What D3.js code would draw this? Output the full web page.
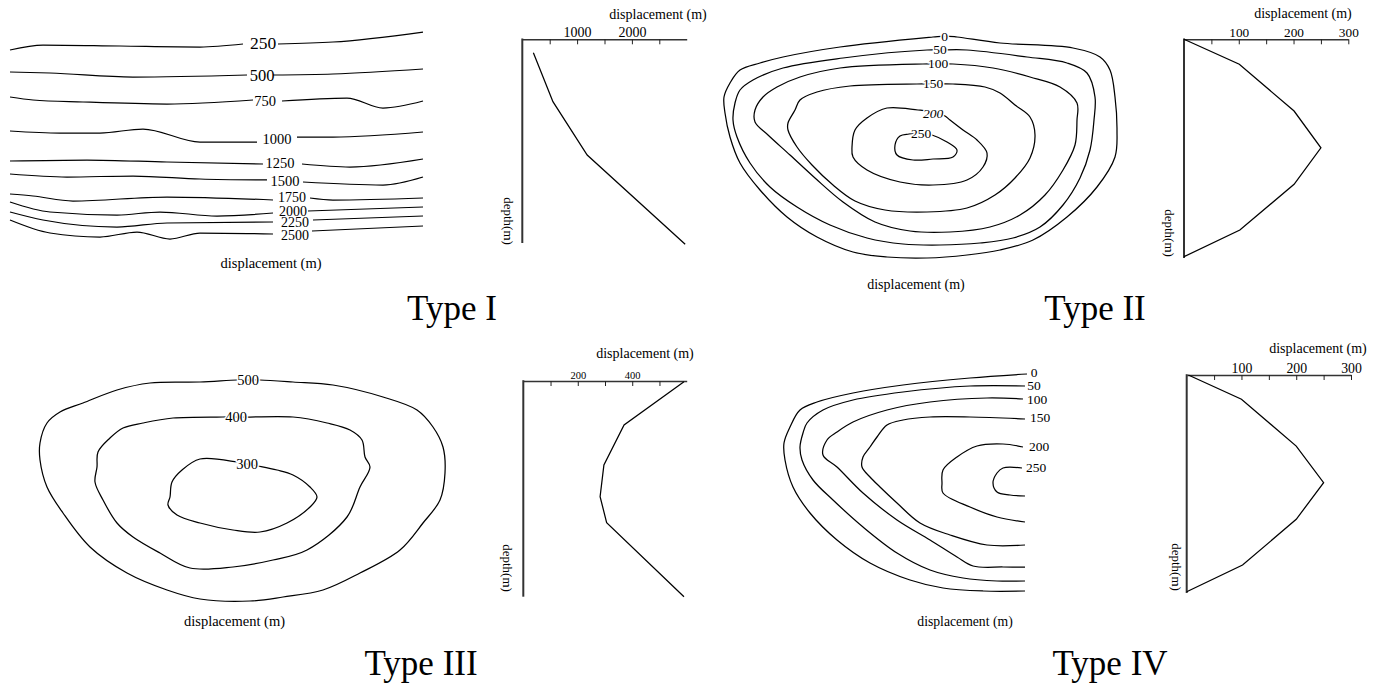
<!DOCTYPE html>
<html><head><meta charset="utf-8">
<script src="https://cdn.jsdelivr.net/npm/d3@7"></script>
<style>
html,body{margin:0;padding:0;background:#fff;}
svg{display:block;font-family:"Liberation Serif","Times New Roman",serif;}
</style></head><body>
<svg id="chart" width="1384" height="687"></svg>
<script>
// ================= DATA =================
const typeNames = ["Type I", "Type II", "Type III", "Type IV"];

// ---- Type I: sub-horizontal displacement contours (along-strike x, down-dip y), split at label gap
const typeI_levels = [250, 500, 750, 1000, 1250, 1500, 1750, 2000, 2250, 2500];
const typeI_left = [
  [[0,20],[33,15],[110,16],[190,17],[233,14]],
  [[0,42],[40,43],[123,47],[237,45]],
  [[0,67],[23,70],[73,72],[157,74],[243,70]],
  [[0,101],[50,103],[90,103],[133,99],[190,112],[247,112]],
  [[0,131],[77,130],[157,132],[253,134]],
  [[0,144],[57,147],[123,146],[190,149],[257,150]],
  [[0,164],[23,166],[63,171],[157,167],[263,170]],
  [[0,172],[40,182],[107,185],[150,182],[207,186],[263,183]],
  [[0,182],[33,190],[107,197],[157,193],[263,192]],
  [[0,190],[40,203],[90,207],[127,202],[160,209],[190,203],[263,204]]
];
const typeI_right = [
  [[268,14],[323,12],[413,2]],
  [[263,45],[323,44],[413,39]],
  [[272,71],[337,68],[373,78],[413,71]],
  [[287,107],[323,107],[413,102]],
  [[292,134],[340,137],[413,129]],
  [[293,152],[373,155],[413,147]],
  [[300,168],[323,170],[413,168]],
  [[298,181],[413,177]],
  [[303,190],[413,186]],
  [[302,201],[413,196]]
];
const typeI_labelPos = [[253,13],[252,45],[255,71],[267,109],[270,133],[275,151],[282,167],[283,181],[285,192],[285,205]];

// ---- Type II: closed concentric contours
const typeII_levels = [0, 50, 100, 150, 200, 250];
const typeII_contours = [
  [[225,6],[213,7],[120,17],[63,27],[40,33],[20,40],[10,53],[4,67],[5,83],[10,107],[20,133],[40,160],[67,187],[97,207],[133,222],[167,227],[207,228],[247,225],[280,220],[313,210],[347,187],[377,157],[395,127],[397,100],[395,67],[390,40],[380,27],[353,18],[280,13],[237,7]],
  [[220,20],[207,20],[123,28],[63,38],[33,50],[20,60],[15,73],[13,90],[17,107],[30,133],[50,157],[77,177],[110,195],[147,208],[183,214],[220,215],[260,213],[293,208],[320,197],[343,175],[360,148],[370,120],[374,90],[375,67],[367,43],[347,33],[307,27],[247,20]],
  [[218,34],[203,34],[120,38],[80,47],[57,57],[43,67],[35,80],[35,92],[48,105],[70,125],[95,148],[123,172],[155,192],[190,201],[230,202],[270,197],[300,185],[325,165],[343,140],[355,115],[357,90],[357,73],[340,57],[310,47],[273,38],[233,34]],
  [[213,54],[197,54],[130,56],[97,62],[80,70],[75,80],[68,93],[68,100],[77,117],[92,135],[113,155],[135,171],[165,180],[207,182],[247,178],[275,165],[295,148],[310,128],[315,105],[310,87],[295,75],[280,63],[265,57],[233,54]],
  [[213,82],[198,80],[167,78],[147,88],[135,100],[132,117],[133,127],[147,140],[180,152],[213,155],[247,150],[263,137],[267,123],[257,110],[243,100],[230,90],[225,86]],
  [[201,103],[189,104],[180,106],[175,115],[177,125],[193,130],[213,129],[233,127],[237,120],[227,112],[212,105]]
];
const typeII_labelPos = [[224.5,6.7],[220,19.3],[218,33.3],[213,53.3],[213,83.3],[201,103.3]];

// ---- Type III: closed contours
const typeIII_levels = [500, 400, 300];
const typeIII_contours = [
  [[218,10],[207,10],[170,12],[120,13],[87,20],[53,33],[30,42],[17,53],[10,73],[10,90],[17,117],[33,143],[60,177],[97,203],[137,220],[170,229],[220,231],[253,227],[293,220],[330,203],[370,180],[393,153],[410,130],[415,103],[413,77],[403,57],[387,40],[353,27],[303,15],[263,12],[230,10]],
  [[207,47],[193,47],[143,48],[113,53],[93,58],[80,68],[68,82],[67,97],[65,112],[73,130],[87,153],[103,167],[130,183],[160,198],[203,197],[243,190],[277,180],[317,147],[330,117],[340,97],[335,87],[332,70],[320,60],[297,53],[263,47],[220,47]],
  [[217,94],[207,92],[170,89],[152,100],[142,112],[140,127],[138,135],[147,145],[170,153],[203,160],[230,162],[257,153],[280,137],[287,127],[280,117],[263,105],[247,100],[228,96]]
];
const typeIII_labelPos = [[218,10],[206,46.7],[217,94.3]];

// ---- Type IV: contours open toward the right edge
const typeIV_levels = [0, 50, 100, 150, 200, 250];
const typeIV_contours = [
  [[247,14],[190,18],[123,25],[73,33],[37,42],[20,50],[10,67],[4,83],[5,100],[13,127],[30,153],[57,180],[90,203],[130,220],[163,228],[203,231],[245,231]],
  [[245,26],[190,26],[123,32],[73,40],[43,50],[27,63],[23,73],[20,87],[22,100],[33,120],[53,140],[83,167],[117,193],[150,210],[183,218],[217,221],[245,221]],
  [[243,39],[207,38],[150,42],[107,50],[73,62],[57,72],[47,80],[43,95],[57,107],[83,133],[117,160],[150,180],[177,197],[193,206],[223,207],[245,207]],
  [[245,59],[190,57],[150,57],[123,60],[107,65],[97,77],[90,87],[83,97],[82,107],[90,117],[100,127],[117,143],[140,163],[170,175],[207,185],[245,185]],
  [[243,87],[223,84],[197,86],[177,97],[163,110],[162,123],[163,133],[190,147],[217,157],[245,162]],
  [[242,108],[223,108],[217,113],[213,123],[217,132],[230,135],[245,136]]
];
const typeIV_labelPos = [[254,12.7],[254,25],[257,39],[260,57.3],[259,86],[256,107.3]];

// ---- Displacement-depth profiles (depth normalised 0-100 along the axis)
const typeI_profDisp = [202, 559, 1184, 2972];
const typeI_profDepth = [6.6, 30.6, 56.8, 100.6];
const typeI_ticks = [500, 1000, 1500, 2000, 2500];
const typeI_tickLabels = [1000, 2000];

const typeII_profDisp = [0, 101, 201, 250, 201, 102, 0];
const typeII_profDepth = [0, 11.4, 32.8, 49.6, 66.3, 87.2, 99.4];
const typeII_ticks = [50, 100, 150, 200, 250, 300];
const typeII_tickLabels = [100, 200, 300];

const typeIII_profDisp = [590, 370, 296, 282, 306, 590];
const typeIII_profDepth = [0.3, 20.4, 38.9, 53.6, 65.7, 100];
const typeIII_ticks = [100, 200, 300, 400, 500];
const typeIII_tickLabels = [200, 400];

const typeIV_profDisp = [3, 100, 200, 250, 200, 102, 0];
const typeIV_profDepth = [0, 11.1, 32.6, 49.4, 66.2, 87.2, 99.4];
const typeIV_ticks = [50, 100, 150, 200, 250, 300];
const typeIV_tickLabels = [100, 200, 300];

// ================= DRAWING =================
const svg = d3.select("#chart");
const LW = 1.25;

function panelScales(x0, y0, w, h) {
  return {
    x: d3.scaleLinear().domain([0, w]).range([x0, x0 + w]),
    y: d3.scaleLinear().domain([0, h]).range([y0, y0 + h])
  };
}

function label(g, x, y, txt, size, opts = {}) {
  const t = g.append("text")
    .attr("x", x).attr("y", y).attr("dy", "0.35em")
    .attr("text-anchor", "middle")
    .attr("font-size", size)
    .attr("fill", "#000")
    .text(txt);
  if (opts.halo) t.attr("stroke", "#fff").attr("stroke-width", opts.halo).attr("paint-order", "stroke");
  if (opts.italic) t.attr("font-style", "italic");
  return t;
}

// ---- Type I contours
{
  const s = panelScales(10, 30, 414, 210);
  const g = svg.append("g");
  const line = d3.line().x(d => s.x(d[0])).y(d => s.y(d[1])).curve(d3.curveMonotoneX);
  typeI_levels.forEach((lv, i) => {
    g.append("path").attr("d", line(typeI_left[i])).attr("fill", "none").attr("stroke", "#000").attr("stroke-width", LW);
    g.append("path").attr("d", line(typeI_right[i])).attr("fill", "none").attr("stroke", "#000").attr("stroke-width", LW);
    const size = i === 0 ? 17.5 : (i === 1 ? 16.5 : (i < 6 ? 14.5 : 14));
    label(g, s.x(typeI_labelPos[i][0]), s.y(typeI_labelPos[i][1]), lv, size);
  });
  g.append("text").attr("x", 271).attr("y", 268).attr("text-anchor", "middle").attr("font-size", 14.5).text("displacement (m)");
}

// ---- Type II contours
{
  const s = panelScales(720, 30, 400, 240);
  const g = svg.append("g");
  const line = d3.line().x(d => s.x(d[0])).y(d => s.y(d[1])).curve(d3.curveCatmullRomClosed.alpha(0.5));
  typeII_contours.forEach(c => g.append("path").attr("d", line(c)).attr("fill", "none").attr("stroke", "#000").attr("stroke-width", LW));
  typeII_levels.forEach((lv, i) => label(g, s.x(typeII_labelPos[i][0]), s.y(typeII_labelPos[i][1]), lv, 13.5, { halo: 3, italic: lv === 200 }));
  g.append("text").attr("x", 916).attr("y", 289).attr("text-anchor", "middle").attr("font-size", 14).text("displacement (m)");
}

// ---- Type III contours
{
  const s = panelScales(30, 370, 420, 240);
  const g = svg.append("g");
  const line = d3.line().x(d => s.x(d[0])).y(d => s.y(d[1])).curve(d3.curveCatmullRomClosed.alpha(0.5));
  typeIII_contours.forEach(c => g.append("path").attr("d", line(c)).attr("fill", "none").attr("stroke", "#000").attr("stroke-width", LW));
  typeIII_levels.forEach((lv, i) => label(g, s.x(typeIII_labelPos[i][0]), s.y(typeIII_labelPos[i][1]), lv, 14.5, { halo: 3 }));
  g.append("text").attr("x", 234.5).attr("y", 626).attr("text-anchor", "middle").attr("font-size", 14.5).text("displacement (m)");
}

// ---- Type IV contours
{
  const s = panelScales(780, 360, 260, 240);
  const g = svg.append("g");
  const line = d3.line().x(d => s.x(d[0])).y(d => s.y(d[1])).curve(d3.curveCatmullRom.alpha(0.5));
  typeIV_contours.forEach(c => g.append("path").attr("d", line(c.slice().reverse())).attr("fill", "none").attr("stroke", "#000").attr("stroke-width", LW));
  typeIV_levels.forEach((lv, i) => label(g, s.x(typeIV_labelPos[i][0]), s.y(typeIV_labelPos[i][1]), lv, 13.5));
  g.append("text").attr("x", 965).attr("y", 626).attr("text-anchor", "middle").attr("font-size", 13.7).text("displacement (m)");
}

// ---- profiles
function profile(cfg) {
  const x = d3.scaleLinear().domain([0, cfg.max]).range([cfg.left, cfg.right]);
  const y = d3.scaleLinear().domain([0, 100]).range([cfg.top, cfg.bottom]);
  const g = svg.append("g");
  const ax = d3.axisTop(x).tickValues(cfg.ticks).tickSizeInner(-5).tickSizeOuter(0).tickPadding(2)
    .tickFormat(d => cfg.labels.includes(d) ? d : "");
  const axg = g.append("g").attr("transform", `translate(0,${cfg.top})`).call(ax);
  axg.attr("font-family", null).attr("font-size", cfg.tickSize);
  axg.select(".domain").attr("stroke", "#333").attr("stroke-width", 1.6);
  axg.selectAll(".tick line").attr("stroke", "#222").attr("stroke-width", 1);
  axg.selectAll(".tick text").attr("fill", "#000");
  g.append("line").attr("x1", x(0)).attr("x2", x(0)).attr("y1", y(0) - 0.8).attr("y2", y(100))
    .attr("stroke", "#333").attr("stroke-width", 2);
  const pts = cfg.disp.map((d, i) => [d, cfg.depth[i]]);
  g.append("path").attr("d", d3.line().x(d => x(d[0])).y(d => y(d[1]))(pts))
    .attr("fill", "none").attr("stroke", "#000").attr("stroke-width", LW);
  g.append("text").attr("x", cfg.titleX).attr("y", cfg.titleY).attr("text-anchor", "middle").attr("font-size", 14).text("displacement (m)");
  g.append("text").attr("transform", `translate(${cfg.depthX},${cfg.depthY}) rotate(90)`)
    .attr("text-anchor", "middle").attr("dy", "0.35em").attr("font-size", 13).text("depth(m)");
}

profile({ max: 3000, left: 522.3, right: 686.7, top: 39.3, bottom: 243, disp: typeI_profDisp, depth: typeI_profDepth,
  ticks: typeI_ticks, labels: typeI_tickLabels, tickSize: 14, titleX: 658, titleY: 19, depthX: 509, depthY: 221 });
profile({ max: 300, left: 1184, right: 1348.3, top: 39.3, bottom: 258, disp: typeII_profDisp, depth: typeII_profDepth,
  ticks: typeII_ticks, labels: typeII_tickLabels, tickSize: 13.3, titleX: 1303, titleY: 18, depthX: 1170, depthY: 233 });
profile({ max: 600, left: 523.3, right: 686.7, top: 381, bottom: 596.7, disp: typeIII_profDisp, depth: typeIII_profDepth,
  ticks: typeIII_ticks, labels: typeIII_tickLabels, tickSize: 10.5, titleX: 645, titleY: 358, depthX: 508, depthY: 568 });
profile({ max: 300, left: 1186.7, right: 1351, top: 375, bottom: 593, disp: typeIV_profDisp, depth: typeIV_profDepth,
  ticks: typeIV_ticks, labels: typeIV_tickLabels, tickSize: 13.8, titleX: 1318, titleY: 353, depthX: 1177, depthY: 567 });

// ---- titles
const titlePos = [[452, 320], [1095, 320], [421, 675], [1110, 675]];
typeNames.forEach((t, i) => svg.append("text").attr("x", titlePos[i][0]).attr("y", titlePos[i][1])
  .attr("text-anchor", "middle").attr("font-size", 35).attr("fill", "#000").text(t));
</script>
</body></html>
